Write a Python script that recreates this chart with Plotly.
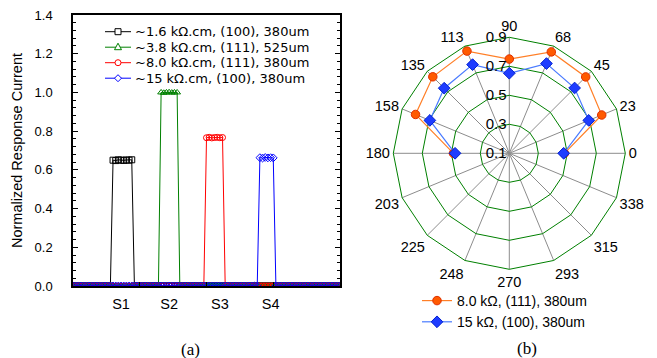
import plotly.graph_objects as go

W, H = 657, 358          # reference picture size (px)
OFF = 8                  # page body margin that the browser adds around the plot div

# ---------------- (a) scan data ----------------
scan_x = list(range(0, 101))
S_labels = ["S1", "S2", "S3", "S4"]
S_pos = [18, 36, 55, 74]
y_ticks = [0.0, 0.2, 0.4, 0.6, 0.8, 1.0, 1.2, 1.4]

def z(n):
    return [0.0] * n

# explicit plateau values
black_plateau = [0.650, 0.648, 0.652, 0.650, 0.649, 0.651, 0.650, 0.652]   # x 15..22
green_plateau = [1.000, 0.998, 1.000, 1.001, 0.999, 1.000, 1.000]          # x 33..39
red_plateau = [0.766, 0.768, 0.765, 0.767, 0.768, 0.766, 0.767]            # x 50..56
blue_plateau = [0.663, 0.661, 0.664, 0.662, 0.663, 0.662]                  # x 70..75

y_16_100 = z(15) + black_plateau + z(101 - 15 - len(black_plateau))
y_38_111 = z(33) + green_plateau + z(101 - 33 - len(green_plateau))
y_80_111 = z(50) + red_plateau + z(101 - 50 - len(red_plateau))
y_15_100 = z(70) + blue_plateau + z(101 - 70 - len(blue_plateau))

names_a = ["~1.6 kΩ.cm, (100), 380um", "~3.8 kΩ.cm, (111), 525um",
           "~8.0 kΩ.cm, (111), 380um", "~15 kΩ.cm, (100), 380um"]
series_a = [y_16_100, y_38_111, y_80_111, y_15_100]
colors_a = ["black", "#008000", "#ff0000", "#0000ff"]
symbols_a = ["square-open", "triangle-up-open", "circle-open", "diamond-open"]

# ---------------- (b) polar data ----------------
angle_labels = ["0", "23", "45", "68", "90", "113", "135", "158",
                "180", "203", "225", "248", "270", "293", "315", "338"]
theta_meas = ["0", "23", "45", "68", "90", "113", "135", "158", "180"]
r_80_111 = [0.48, 0.79, 0.845, 0.857, 0.75, 0.863, 0.846, 0.80, 0.485]
r_15_100 = [0.475, 0.693, 0.737, 0.77, 0.652, 0.762, 0.735, 0.693, 0.474]
radial_ticks = [0.1, 0.3, 0.5, 0.7, 0.9]

fig = go.Figure()

for nm, yy, c, s in zip(names_a, series_a, colors_a, symbols_a):
    fig.add_trace(go.Scatter(
        x=scan_x, y=yy, name=nm, mode="lines+markers",
        line=dict(color=c, width=1),
        marker=dict(symbol=s, size=6, color=c, line=dict(width=1, color=c)),
        showlegend=False))

fig.add_trace(go.Scatterpolar(
    theta=theta_meas, r=r_80_111, name="8.0 kΩ, (111), 380um",
    mode="lines+markers", line=dict(color="#ff7f27", width=1.2),
    marker=dict(symbol="circle", size=8.5, color="#ff5a00",
                line=dict(color="#e03000", width=1)),
    legend="legend2"))
fig.add_trace(go.Scatterpolar(
    theta=theta_meas, r=r_15_100, name="15 kΩ, (100), 380um",
    mode="lines+markers", line=dict(color="#4a7bff", width=1.2),
    marker=dict(symbol="diamond", size=9, color="#1e3cff",
                line=dict(color="#0020d0", width=1)),
    legend="legend2"))

FW, FH = W - OFF, H - OFF

def px_x(p):
    return (p - OFF) / FW

def px_y(p):
    return 1 - (p - OFF) / FH

# ---- key for panel (a): text + small glyphs (rows tighter than plotly's legend allows)
key_rows_y = [31.7, 47.2, 62.7, 78.2]
key_line_x0, key_line_x1, key_text_x = 105, 131, 133.5
annotations = []
shapes = []
m = 3.0
for nm, c, s, ry in zip(names_a, colors_a, symbols_a, key_rows_y):
    annotations.append(dict(text=nm, x=px_x(key_text_x), y=px_y(ry), xref="paper", yref="paper",
                            xanchor="left", yanchor="middle", showarrow=False, borderpad=0,
                            font=dict(family="DejaVu Sans, sans-serif", size=13, color="black")))
    shapes.append(dict(type="line", xref="paper", yref="paper",
                       x0=px_x(key_line_x0), x1=px_x(key_line_x1), y0=px_y(ry), y1=px_y(ry),
                       line=dict(color=c, width=1)))
    mx = (key_line_x0 + key_line_x1) / 2
    if s.startswith("square"):
        shp = dict(type="rect", x0=px_x(mx - m), x1=px_x(mx + m), y0=px_y(ry + m), y1=px_y(ry - m))
    elif s.startswith("circle"):
        shp = dict(type="circle", x0=px_x(mx - m), x1=px_x(mx + m), y0=px_y(ry + m), y1=px_y(ry - m))
    elif s.startswith("triangle"):
        p = f"M{px_x(mx - m - 0.5)},{px_y(ry + m - 0.5)} L{px_x(mx + m + 0.5)},{px_y(ry + m - 0.5)} L{px_x(mx)},{px_y(ry - m - 1)} Z"
        shp = dict(type="path", path=p)
    else:
        p = f"M{px_x(mx - m - 0.5)},{px_y(ry)} L{px_x(mx)},{px_y(ry - m - 0.5)} L{px_x(mx + m + 0.5)},{px_y(ry)} L{px_x(mx)},{px_y(ry + m + 0.5)} Z"
        shp = dict(type="path", path=p)
    shp.update(xref="paper", yref="paper", fillcolor="white", line=dict(color=c, width=1))
    shapes.append(shp)

serif = dict(family="Liberation Serif, Times New Roman, serif", size=17, color="black")
annotations += [
    dict(text="(a)", x=px_x(190), y=px_y(349), xref="paper", yref="paper",
         xanchor="center", yanchor="middle", showarrow=False, font=serif),
    dict(text="(b)", x=px_x(527), y=px_y(348), xref="paper", yref="paper",
         xanchor="center", yanchor="middle", showarrow=False, font=serif),
]

cx, cy, R = 509.3, 153.3, 116

fig.update_layout(
    width=FW, height=FH,
    margin=dict(l=0, r=0, t=0, b=0, autoexpand=False),
    paper_bgcolor="white", plot_bgcolor="white",
    font=dict(family="Liberation Sans, Arial, sans-serif", size=14, color="black"),
    xaxis=dict(
        domain=[px_x(73), px_x(340)], range=[0, 100], automargin=False,
        tickmode="array", tickvals=S_pos, ticktext=S_labels,
        ticks="", showgrid=False, zeroline=False,
        showline=True, linecolor="black", linewidth=1.5, mirror=True,
        tickfont=dict(size=14.5), ticklabelstandoff=4,
        minor=dict(tickmode="array", tickvals=[25, 50, 75], ticks="inside",
                   ticklen=4, tickcolor="black", showgrid=False),
    ),
    yaxis=dict(
        domain=[px_y(286), px_y(15)], range=[0, 1.4], automargin=False,
        tickmode="array", tickvals=y_ticks,
        ticktext=[f"{v:.1f}" for v in y_ticks],
        ticks="inside", ticklen=5, tickcolor="black",
        ticklabeloverflow="allow",
        showgrid=False, zeroline=False,
        showline=True, linecolor="black", linewidth=1.5, mirror="allticks",
        tickfont=dict(size=13), ticklabelstandoff=16,
        minor=dict(tickmode="linear", dtick=0.04, tick0=0, ticks="inside", ticklen=3,
                   tickcolor="black", showgrid=False),
        title=dict(text="Normalized Response Current", font=dict(size=14.5),
                   standoff=8),
    ),
    polar=dict(
        domain=dict(x=[px_x(cx - R), px_x(cx + R)], y=[px_y(cy + R), px_y(cy - R)]),
        bgcolor="white",
        gridshape="linear",
        angularaxis=dict(
            type="category", categoryarray=angle_labels,
            direction="counterclockwise", rotation=0,
            showgrid=True, gridcolor="#8c8c8c", gridwidth=1,
            showline=True, linecolor="#008000", linewidth=1,
            ticks="", ticklen=0, tickfont=dict(size=14.5),
        ),
        radialaxis=dict(
            range=[0.1, 0.9], tickmode="array",
            tickvals=radial_ticks,
            ticktext=[f"{v:.1f}" for v in radial_ticks],
            angle=90, side="counterclockwise", tickangle=90,
            showgrid=True, gridcolor="#008000", gridwidth=1,
            showline=False, ticks="", tickfont=dict(size=15),
        ),
    ),
    legend2=dict(
        x=px_x(417), y=px_y(285), xanchor="left", yanchor="top",
        bgcolor="rgba(0,0,0,0)", font=dict(size=14),
        tracegroupgap=0, itemwidth=30,
    ),
    annotations=annotations,
    shapes=shapes,
)

fig.write_html("out.html")
